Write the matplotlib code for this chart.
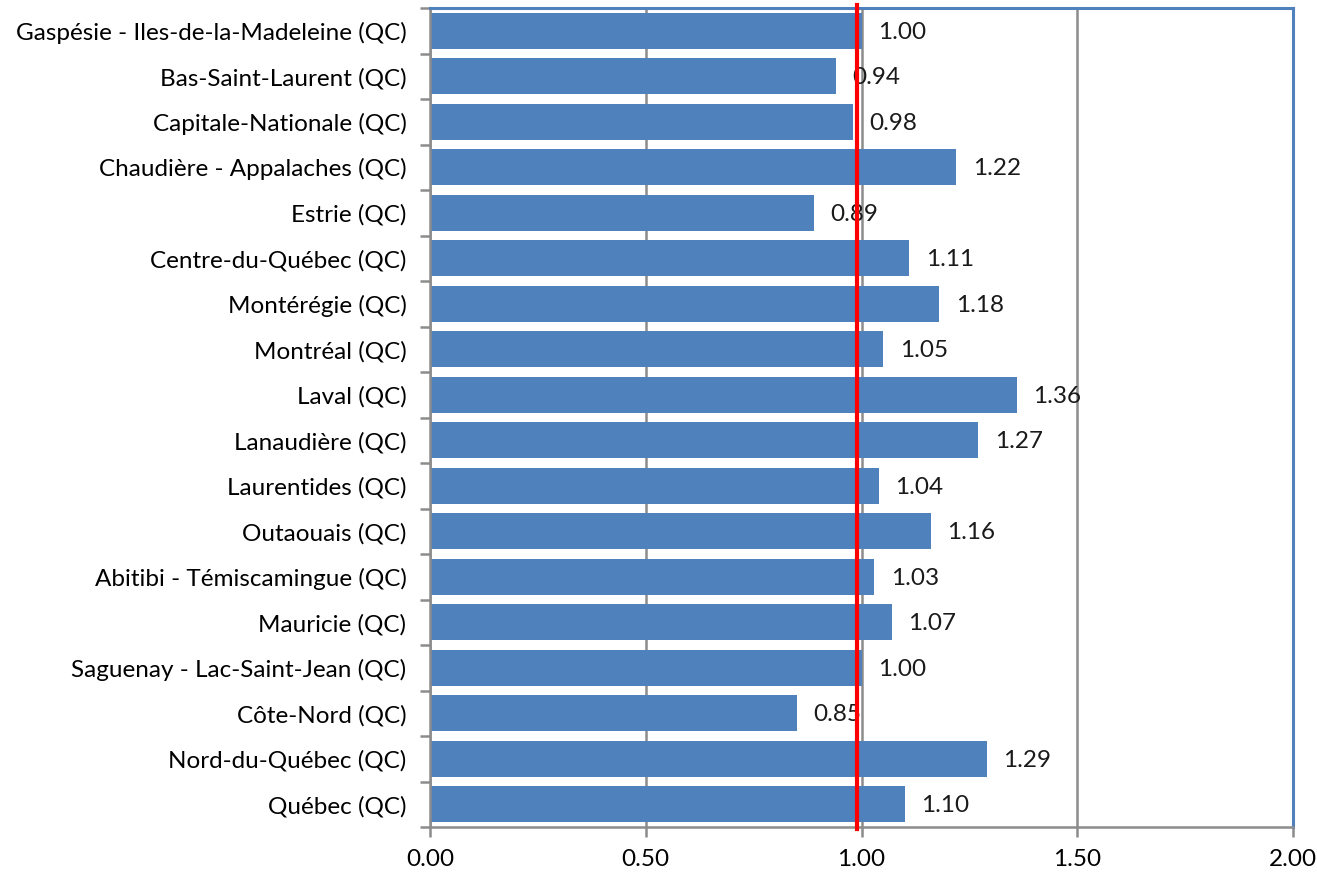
import numpy as np
from matplotlib import pyplot as plt

plt.rcParams['font.family'] = ['Lato', 'DejaVu Sans']

regions = [
    "Gaspésie - Iles-de-la-Madeleine (QC)",
    "Bas-Saint-Laurent (QC)",
    "Capitale-Nationale (QC)",
    "Chaudière - Appalaches (QC)",
    "Estrie (QC)",
    "Centre-du-Québec (QC)",
    "Montérégie (QC)",
    "Montréal (QC)",
    "Laval (QC)",
    "Lanaudière (QC)",
    "Laurentides (QC)",
    "Outaouais (QC)",
    "Abitibi - Témiscamingue (QC)",
    "Mauricie (QC)",
    "Saguenay - Lac-Saint-Jean (QC)",
    "Côte-Nord (QC)",
    "Nord-du-Québec (QC)",
    "Québec (QC)",
]
ratios = [1.00, 0.94, 0.98, 1.22, 0.89, 1.11, 1.18, 1.05, 1.36,
          1.27, 1.04, 1.16, 1.03, 1.07, 1.00, 0.85, 1.29, 1.10]
reference = 0.99
xticks = [0.0, 0.5, 1.0, 1.5, 2.0]

bar_blue = '#4F81BD'
grid_grey = '#8C8C8C'
fs = 17.5

fig = plt.figure(figsize=(13.17, 8.74), dpi=100)
ax = fig.add_axes([430 / 1317, 47 / 874, 863 / 1317, 819 / 874])

y = np.arange(len(regions))
ax.barh(y, ratios, height=0.8, color=bar_blue, zorder=2)

for yi, v in zip(y, ratios):
    ax.annotate(f"{v:.2f}", (v, yi), xytext=(12, -1), textcoords='offset points',
                va='center', ha='left', fontsize=fs, color='#1a1a1a', zorder=3)

# reference line drawn over the value labels
ax.axvline(reference, ymin=-0.003, ymax=1.004, color='red', lw=3, zorder=5, clip_on=False)

ax.set_xlim(0, 2)
ax.set_ylim(len(regions) - 0.5, -0.5)
ax.set_xticks(xticks)
ax.set_xticklabels([f"{t:.2f}" for t in xticks])
ax.set_yticks(y)
ax.set_yticklabels(regions)
ax.set_yticks(np.arange(len(regions) + 1) - 0.5, minor=True)

ax.grid(axis='x', color=grid_grey, lw=1.8, zorder=1)
ax.tick_params(axis='y', which='major', length=0, labelsize=fs, pad=17)
ax.tick_params(axis='y', which='minor', length=7, width=1.8, color=grid_grey)
ax.tick_params(axis='x', length=7, width=1.8, color=grid_grey, labelsize=fs, pad=9)

for side in ['left', 'bottom']:
    ax.spines[side].set_color(grid_grey)
    ax.spines[side].set_linewidth(1.8)
for side in ['top', 'right']:
    ax.spines[side].set_color(bar_blue)
    ax.spines[side].set_linewidth(2.2)

plt.savefig("out.png", dpi=100)
